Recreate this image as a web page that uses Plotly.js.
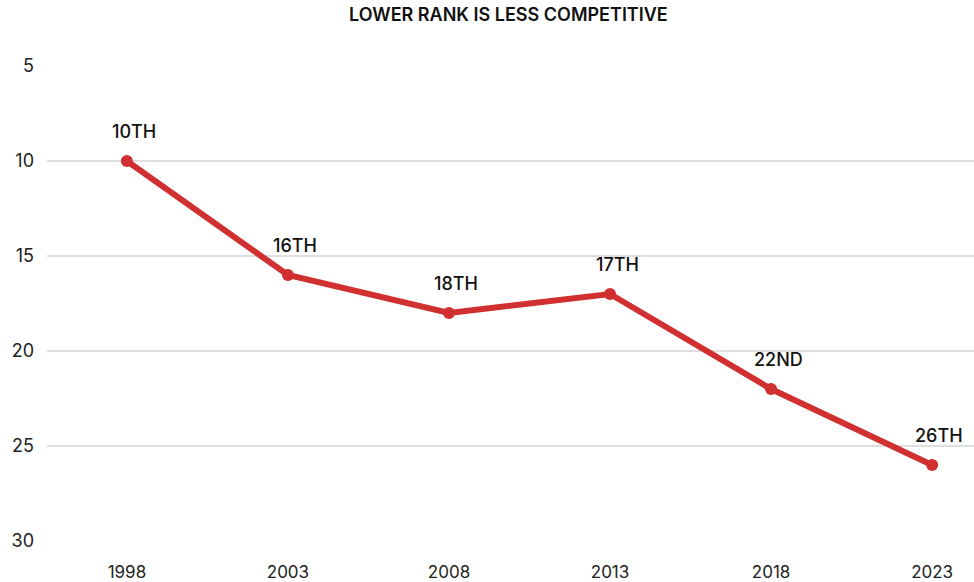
<!DOCTYPE html>
<html><head><meta charset="utf-8">
<script src="https://cdn.plot.ly/plotly-3.0.1.min.js"></script>
<style>html,body{margin:0;padding:0;background:#fff}#c{width:974px;height:582px}</style>
</head><body><div id="c"></div>
<script>
const years = [1998, 2003, 2008, 2013, 2018, 2023];
const ranks = [10, 16, 18, 17, 22, 26];
const rankLabels = ['10TH', '16TH', '18TH', '17TH', '22ND', '26TH'];
const yTicks = [5, 10, 15, 20, 25, 30];
const xTicks = years;

const annotations = years.map((yr, i) => ({
  x: yr, y: ranks[i], text: rankLabels[i], showarrow: false,
  xanchor: 'center', yanchor: 'middle', xshift: 7, yshift: 30,
  font: {family: 'Inter, sans-serif', size: 18, color: '#111', weight: 500}
}));

Plotly.newPlot('c', [{
  x: years, y: ranks,
  type: 'scatter', mode: 'lines+markers',
  line: {color: '#d0302f', width: 6},
  marker: {color: '#d0302f', size: 12},
  cliponaxis: false, hoverinfo: 'none'
}], {
  width: 974, height: 582,
  margin: {l: 47, r: 0, t: 66, b: 41},
  paper_bgcolor: '#fff', plot_bgcolor: '#fff',
  showlegend: false,
  font: {family: 'Inter, sans-serif', color: '#222'},
  annotations: annotations,
  title: {text: 'LOWER RANK IS LESS COMPETITIVE', x: 0.522, xanchor: 'center', y: 0.985, yanchor: 'top',
    font: {family: 'Inter, sans-serif', size: 18, color: '#111', weight: 600}},
  xaxis: {range: [1995.52, 2024.3], tickvals: xTicks, ticktext: xTicks.map(String),
    showgrid: false, zeroline: false, showline: false, ticks: '',
    tickfont: {size: 17, color: '#222'}, ticklabelstandoff: 19},
  yaxis: {range: [30, 5], tickvals: yTicks, showgrid: true, gridcolor: '#dedede', gridwidth: 1.2,
    zeroline: false, showline: false, ticks: '',
    tickfont: {size: 18, color: '#222'}, ticklabelstandoff: 12}
}, {displayModeBar: false, staticPlot: true});
</script></body></html>
